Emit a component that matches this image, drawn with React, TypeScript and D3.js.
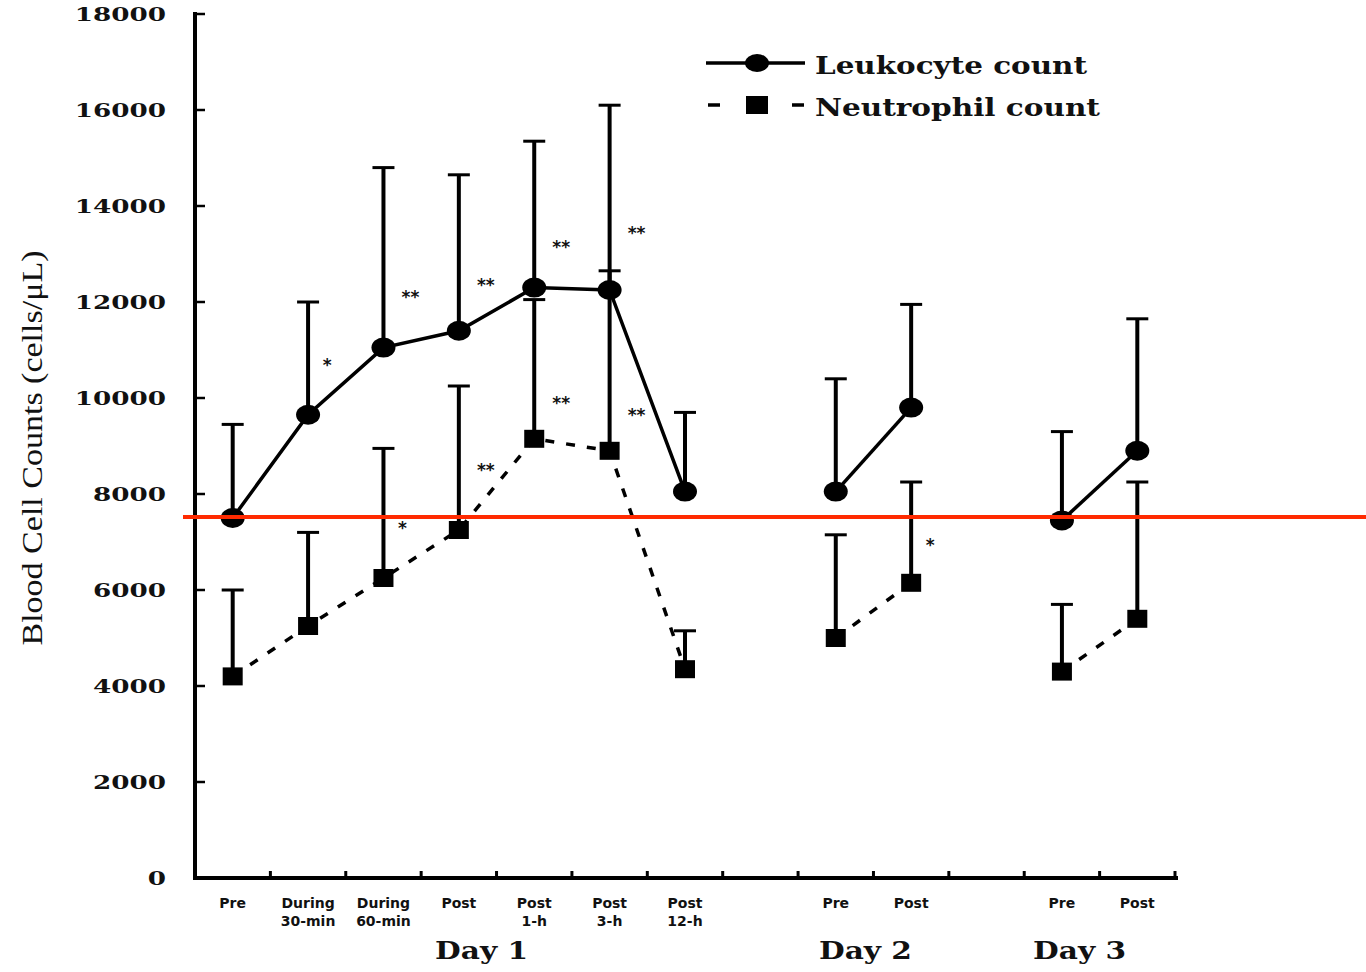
import React from "react";
import * as d3 from "d3";

// x categories, in order (gaps mark the spacing between days)
const categories = [
  { id: "d1-pre", day: "Day 1", lines: ["Pre"] },
  { id: "d1-d30", day: "Day 1", lines: ["During", "30-min"] },
  { id: "d1-d60", day: "Day 1", lines: ["During", "60-min"] },
  { id: "d1-post", day: "Day 1", lines: ["Post"] },
  { id: "d1-p1", day: "Day 1", lines: ["Post", "1-h"] },
  { id: "d1-p3", day: "Day 1", lines: ["Post", "3-h"] },
  { id: "d1-p12", day: "Day 1", lines: ["Post", "12-h"] },
  { id: "gap1", day: "", lines: [] },
  { id: "d2-pre", day: "Day 2", lines: ["Pre"] },
  { id: "d2-post", day: "Day 2", lines: ["Post"] },
  { id: "gap2", day: "", lines: [] },
  { id: "d3-pre", day: "Day 3", lines: ["Pre"] },
  { id: "d3-post", day: "Day 3", lines: ["Post"] },
];

const pointIds = [
  "d1-pre", "d1-d30", "d1-d60", "d1-post", "d1-p1", "d1-p3", "d1-p12",
  "d2-pre", "d2-post", "d3-pre", "d3-post",
];
const segments = [[0, 7], [7, 9], [9, 11]];

const leukoMean = [7500, 9650, 11050, 11400, 12300, 12250, 8050, 8050, 9800, 7450, 8900];
const leukoUpper = [9450, 12000, 14800, 14650, 15350, 16100, 9700, 10400, 11950, 9300, 11650];
const leukoSig = ["", "*", "**", "**", "**", "**", "", "", "", "", ""];
const leukoSigAt = [0, 10800, 12200, 12450, 13250, 13550, 0, 0, 0, 0, 0];

const neutroMean = [4200, 5250, 6250, 7250, 9150, 8900, 4350, 5000, 6150, 4300, 5400];
const neutroUpper = [6000, 7200, 8950, 10250, 12050, 12650, 5150, 7150, 8250, 5700, 8250];
const neutroSig = ["", "", "*", "**", "**", "**", "", "", "*", "", ""];
const neutroSigAt = [0, 0, 7400, 8600, 10000, 9750, 0, 0, 7050, 0, 0];

const yTicks = [0, 2000, 4000, 6000, 8000, 10000, 12000, 14000, 16000, 18000];
const days = ["Day 1", "Day 2", "Day 3"];
const refLine = 7520;

const serif = "'DejaVu Serif', 'Liberation Serif', serif";
const sans = "'DejaVu Sans', sans-serif";

export default function App() {
  const x = d3.scaleBand().domain(categories.map((c) => c.id)).range([195, 1175]).padding(0);
  const y = d3.scaleLinear().domain([0, 18000]).range([878, 14]);
  const cx = (id) => x(id) + x.bandwidth() / 2;

  const line = d3
    .line()
    .x((d) => cx(pointIds[d[0]]))
    .y((d) => y(d[1]));

  const segPath = (vals) =>
    segments.map(([a, b]) => line(d3.range(a, b).map((i) => [i, vals[i]])));

  const dayCenter = {
    "Day 1": (cx("d1-post") + cx("d1-p1")) / 2 - 15,
    "Day 2": (cx("d2-pre") + cx("d2-post")) / 2 - 8,
    "Day 3": (cx("d3-pre") + cx("d3-post")) / 2 - 20,
  };

  return (
    <svg
      width={1366}
      height={972}
      style={{ position: "absolute", left: 0, top: 0, background: "#fff" }}
    >
      <rect width={1366} height={972} fill="#fff" />

      {/* y axis */}
      <line x1={195} x2={195} y1={y(18000) - 2} y2={y(0) + 2} stroke="#000" strokeWidth={4} />
      {yTicks.map((t) => (
        <g key={t}>
          <line x1={195} x2={205} y1={y(t)} y2={y(t)} stroke="#000" strokeWidth={2.5} />
          <text
            transform={`translate(166,${y(t) + 7}) scale(1.38,1)`}
            textAnchor="end"
            fontFamily={serif}
            fontWeight="bold"
            fontSize={19}
            fill="#111"
          >
            {t}
          </text>
        </g>
      ))}
      <text
        transform={`translate(42,${448}) rotate(-90)`}
        textAnchor="middle"
        fontFamily="'Liberation Serif', serif"
        fontSize={30}
        textLength={395}
        lengthAdjust="spacingAndGlyphs"
        fill="#111"
      >
        Blood Cell Counts (cells/μL)
      </text>

      {/* x axis */}
      <line x1={193} x2={1178} y1={y(0)} y2={y(0)} stroke="#000" strokeWidth={4} />
      {categories.map((c) => (
        <line
          key={c.id}
          x1={x(c.id) + x.bandwidth()}
          x2={x(c.id) + x.bandwidth()}
          y1={y(0)}
          y2={y(0) - 7}
          stroke="#000"
          strokeWidth={3}
        />
      ))}
      {categories.map((c) =>
        c.lines.map((l, j) => (
          <text
            key={c.id + j}
            x={cx(c.id)}
            y={908 + j * 18}
            textAnchor="middle"
            fontFamily={sans}
            fontWeight="bold"
            fontSize={14}
            fill="#111"
          >
            {l}
          </text>
        ))
      )}
      {days.map((d) => (
        <text
          key={d}
          x={dayCenter[d]}
          y={959}
          textAnchor="middle"
          fontFamily={serif}
          fontWeight="bold"
          fontSize={25}
          textLength={93}
          lengthAdjust="spacingAndGlyphs"
          fill="#111"
        >
          {d}
        </text>
      ))}

      {/* error bars */}
      {[[leukoMean, leukoUpper], [neutroMean, neutroUpper]].map(([m, u], s) =>
        pointIds.map((id, i) => (
          <g key={s + id}>
            <line x1={cx(id)} x2={cx(id)} y1={y(m[i])} y2={y(u[i])} stroke="#000" strokeWidth={4} />
            <line x1={cx(id) - 11} x2={cx(id) + 11} y1={y(u[i])} y2={y(u[i])} stroke="#000" strokeWidth={3} />
          </g>
        ))
      )}

      {/* lines */}
      {segPath(leukoMean).map((p, i) => (
        <path key={"l" + i} d={p} fill="none" stroke="#000" strokeWidth={3.5} />
      ))}
      {segPath(neutroMean).map((p, i) => (
        <path key={"n" + i} d={p} fill="none" stroke="#000" strokeWidth={3.5} strokeDasharray="9 12" />
      ))}

      {/* markers */}
      {pointIds.map((id, i) => (
        <ellipse key={"c" + id} cx={cx(id)} cy={y(leukoMean[i])} rx={12} ry={10} fill="#000" />
      ))}
      {pointIds.map((id, i) => (
        <rect key={"s" + id} x={cx(id) - 10} y={y(neutroMean[i]) - 9} width={20} height={18} fill="#000" />
      ))}

      {/* significance marks */}
      {[[leukoSig, leukoSigAt], [neutroSig, neutroSigAt]].map(([sig, at], s) =>
        pointIds.map((id, i) =>
          sig[i] ? (
            <text
              key={"sig" + s + id}
              x={cx(id) + (sig[i] === "**" ? 27 : 19)}
              y={y(at[i]) + 11}
              textAnchor="middle"
              fontFamily={sans}
              fontWeight="bold"
              fontSize={17}
              fill="#111"
            >
              {sig[i]}
            </text>
          ) : null
        )
      )}

      {/* legend */}
      <line x1={706} x2={805} y1={63} y2={63} stroke="#000" strokeWidth={3.5} />
      <ellipse cx={757} cy={63} rx={12} ry={9} fill="#000" />
      <text x={815} y={74} fontFamily={serif} fontWeight="bold" fontSize={25} textLength={272} lengthAdjust="spacingAndGlyphs" fill="#111">
        Leukocyte count
      </text>
      <line x1={706} x2={805} y1={105} y2={105} stroke="#000" strokeWidth={3.5} strokeDasharray="12 30" strokeDashoffset={-2} />
      <rect x={746} y={96} width={22} height={18} fill="#000" />
      <text x={815} y={116} fontFamily={serif} fontWeight="bold" fontSize={25} textLength={285} lengthAdjust="spacingAndGlyphs" fill="#111">
        Neutrophil count
      </text>

      {/* red reference line */}
      <line x1={183} x2={1366} y1={y(refLine)} y2={y(refLine)} stroke="#ff2a00" strokeWidth={4} />
    </svg>
  );
}
